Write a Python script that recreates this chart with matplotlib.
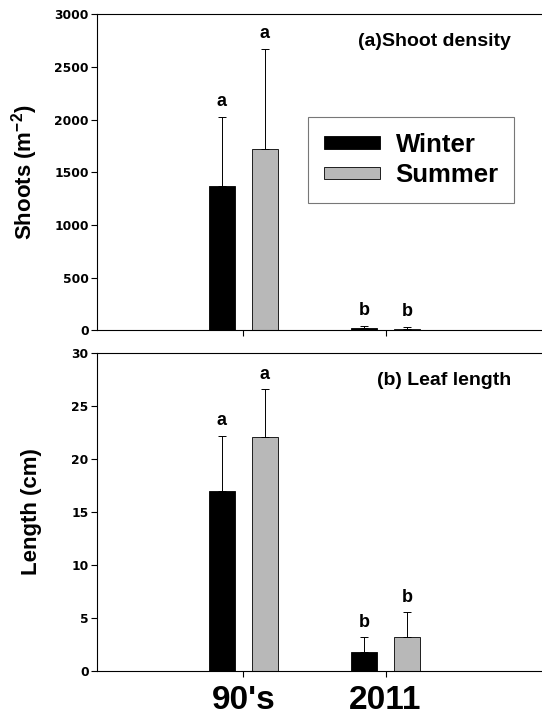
import matplotlib.pyplot as plt
import numpy as np

plt.rcParams['font.family'] = ['Liberation Sans', 'DejaVu Sans']
plt.rcParams['font.weight'] = 'bold'
plt.rcParams['mathtext.fontset'] = 'custom'
plt.rcParams['mathtext.bf'] = 'Liberation Sans:bold'
plt.rcParams['mathtext.rm'] = 'Liberation Sans:bold'

periods = ["90's", "2011"]
seasons = ['Winter', 'Summer']
colors = ['black', '#b8b8b8']

shoot_mean = {'Winter': [1370, 20], 'Summer': [1725, 15]}
shoot_err = {'Winter': [660, 25], 'Summer': [950, 20]}
shoot_lett = {'Winter': ['a', 'b'], 'Summer': ['a', 'b']}

leaf_mean = {'Winter': [17.0, 1.8], 'Summer': [22.05, 3.25]}
leaf_err = {'Winter': [5.2, 1.4], 'Summer': [4.55, 2.3]}
leaf_lett = {'Winter': ['a', 'b'], 'Summer': ['a', 'b']}

fig = plt.figure(figsize=(5.42, 7.18), dpi=100)
ax1 = fig.add_axes([0.179, 0.540, 0.86, 0.440])
ax2 = fig.add_axes([0.179, 0.0655, 0.86, 0.443])

x = np.arange(len(periods))
width = 0.183
offs = [-0.151, 0.151]


def draw(ax, mean, err, lett, ymax, step, ylabel, panel, pad, lx):
    for s, off, c in zip(seasons, offs, colors):
        ax.bar(x + off, mean[s], width, color=c, edgecolor='black',
               linewidth=0.6, label=s, zorder=2)
        ax.errorbar(x + off, mean[s], yerr=[np.zeros(len(x)), err[s]],
                    fmt='none', ecolor='black', elinewidth=0.7,
                    capsize=3, capthick=0.7, zorder=3)
        for xi, m, e, l in zip(x + off, mean[s], err[s], lett[s]):
            ax.text(xi, m + e + pad, l, ha='center', va='bottom',
                    fontsize=13, fontweight='bold')
    ax.set_xlim(-1.03, 2.25)
    ax.set_ylim(0, ymax)
    ax.set_yticks(np.arange(0, ymax + step / 2, step))
    ax.set_xticks(x)
    ax.spines['right'].set_visible(False)
    for sp in ax.spines.values():
        sp.set_linewidth(0.8)
    ax.tick_params(axis='y', length=4, width=0.8, pad=2)
    for t in ax.get_yticklabels():
        t.set_fontfamily('DejaVu Sans')
        t.set_fontsize(8.8)
        t.set_fontweight('bold')
    ax.tick_params(axis='x', length=4, width=0.8, pad=6)
    ax.set_ylabel(ylabel, fontsize=16, fontweight='bold')
    ax.yaxis.set_label_coords(lx, 0.5)
    ax.text(0.888, 0.94, panel, transform=ax.transAxes, ha='right',
            va='top', fontsize=14, fontweight='bold')


draw(ax1, shoot_mean, shoot_err, shoot_lett, 3000, 500,
     'Shoots (m$^{\\mathrm{-2}}$)', '(a)Shoot density', 60, -0.122)
ax1.set_xticklabels([])

draw(ax2, leaf_mean, leaf_err, leaf_lett, 30, 5,
     'Length (cm)', '(b) Leaf length', 0.6, -0.118)
ax2.set_xticklabels(periods, fontsize=24, fontweight='bold')

leg = ax1.legend(loc='upper left', bbox_to_anchor=(0.453, 0.674),
                 borderaxespad=0, fontsize=18.5, frameon=True,
                 fancybox=False, handlelength=2.2, handleheight=0.35,
                 handletextpad=0.6, borderpad=0.6, labelspacing=0.25)
leg.get_frame().set_edgecolor('#555555')
leg.get_frame().set_linewidth(0.8)
for t in leg.get_texts():
    t.set_fontweight('bold')

fig.savefig('out.png', dpi=100)
